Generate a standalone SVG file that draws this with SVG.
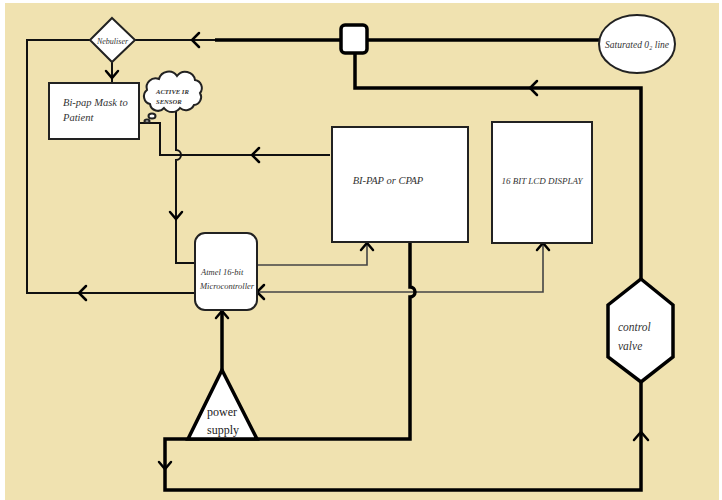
<svg xmlns="http://www.w3.org/2000/svg" width="722" height="500" viewBox="0 0 722 500">
<style>
.bg{fill:#F0E2B0}
.box{fill:#fff;stroke:#222;stroke-width:2}
.tk{fill:none;stroke:#000;stroke-width:3.5;stroke-linejoin:miter}
.tn{fill:none;stroke:#111;stroke-width:2}
.gr{fill:none;stroke:#444;stroke-width:1.6}
.ar{fill:none;stroke:#000;stroke-width:2.5;stroke-linecap:round;stroke-linejoin:miter}
.lbl{font-family:"Liberation Serif",serif;font-style:italic;fill:#333}
.up{font-family:"Liberation Serif",serif;fill:#222}
</style>
<rect x="0" y="0" width="722" height="500" fill="#fff"/>
<rect class="bg" x="5" y="3" width="714" height="497"/>

<g id="connectors">
  <!-- nebuliser to square line -->
  <path class="tn" d="M135,40 H215"/>
  <path class="tk" d="M215,40 H341"/>
  <path class="ar" d="M199,33 L192,40 L199,47"/>
  <!-- square to O2 line -->
  <path class="tk" d="M367,40 H600"/>
  <!-- nebuliser left loop to micro -->
  <path class="tn" d="M90,40 H27 V293 H195"/>
  <path class="ar" d="M86,286 L79,293 L86,300"/>
  <!-- nebuliser down to mask -->
  <path class="tn" d="M112,62 V83"/>
  <path class="ar" d="M106,71 L112,78 L118,71"/>
  <!-- BI-PAP to mask -->
  <path class="tn" d="M330,155 H160 V123 H139"/>
  <path class="ar" d="M259,148 L252,155 L259,162"/>
  <!-- sensor down to micro (hop) -->
  <path class="tn" d="M176,111 V150 A5,5 0 0 1 176,160 V263 H195"/>
  <path class="ar" d="M170,212 L176,219 L182,212"/>
  <!-- micro to BI-PAP -->
  <path class="gr" d="M257,265 H367 V243"/>
  <path class="ar" d="M361,250 L367,243 L373,250"/>
  <!-- LCD to micro -->
  <path class="gr" d="M543,243 V292 H257"/>
  <path class="ar" d="M537,250 L543,243 L549,250"/>
  <path class="ar" d="M264,285 L257,292 L264,299"/>
  <!-- BI-PAP down, loop to control valve -->
  <path class="tk" d="M410,242 V287 A5,5 0 0 1 410,297 V439 H165 V490 H641 V382"/>
  <path class="ar" d="M159,462 L165,469 L171,462"/>
  <path class="ar" d="M634,440 L641,432 L648,440"/>
  <!-- power supply to micro -->
  <path class="tk" d="M222,370 V311"/>
  <path class="ar" d="M216,318 L222,311 L228,318"/>
  <!-- control valve up to square -->
  <path class="tk" d="M641,279 V88 H355 V53"/>
  <path class="ar" d="M537,81 L530,88 L537,95"/>
</g>

<g id="nebuliser">
  <polygon class="box" points="112,18 135,40 112,62 90,40"/>
  <text class="lbl" x="112.5" y="43.5" font-size="8" text-anchor="middle">Nebuliser</text>
</g>

<g id="mask">
  <rect class="box" x="49" y="83" width="90" height="56"/>
  <text class="lbl" x="63" y="106" font-size="10.5">Bi-pap Mask to</text>
  <text class="lbl" x="63" y="121" font-size="10.5">Patient</text>
</g>

<g id="sensor">
  <path class="box" d="M150,104 a8,8 0 0 1 -3,-14 a9,9 0 0 1 12,-11 a10,10 0 0 1 18,-3 a10,10 0 0 1 18,4 a8,8 0 0 1 5,13 a8,8 0 0 1 -6,12 a9,9 0 0 1 -14,3 a10,10 0 0 1 -16,0 a8,8 0 0 1 -14,-4 z"/>
  <ellipse class="box" cx="152" cy="116" rx="3.5" ry="2.5" stroke-width="1.5"/>
  <ellipse class="box" cx="147" cy="121" rx="2.5" ry="1.6" stroke-width="1.5"/>
  <text class="lbl" x="156" y="94" font-size="6.6" font-weight="bold">ACTIVE IR</text>
  <text class="lbl" x="156" y="104" font-size="6.6" font-weight="bold">SENSOR</text>
</g>

<g id="square">
  <rect x="341" y="25" width="26" height="28" rx="4" fill="#fff" stroke="#000" stroke-width="3.5"/>
</g>

<g id="o2line">
  <ellipse class="box" cx="637" cy="44" rx="38" ry="29"/>
  <text class="lbl" x="637" y="47.5" font-size="9.5" text-anchor="middle">Saturated 0₂ line</text>
</g>

<g id="bipap">
  <rect class="box" x="332" y="127" width="136" height="115"/>
  <text class="lbl" x="388" y="184" font-size="10.5" text-anchor="middle">BI-PAP or CPAP</text>
</g>

<g id="lcd">
  <rect class="box" x="492" y="122" width="100" height="121"/>
  <text class="lbl" x="542" y="184" font-size="9" text-anchor="middle">16 BIT LCD DISPLAY</text>
</g>

<g id="micro">
  <rect class="box" x="195" y="233" width="62" height="77" rx="10"/>
  <text class="lbl" x="201" y="275" font-size="8.5">Atmel 16-bit</text>
  <text class="lbl" x="200" y="289" font-size="8.5">Microcontroller</text>
</g>

<g id="power">
  <polygon points="222,370 257,439 188,439" fill="#fff" stroke="#000" stroke-width="3.5" stroke-linejoin="miter"/>
  <text class="up" x="222" y="416" font-size="12" text-anchor="middle">power</text>
  <text class="up" x="223" y="434" font-size="12" text-anchor="middle">supply</text>
</g>

<g id="valve">
  <polygon points="641,279 673,305 673,357 641,382 608,357 608,305" fill="#fff" stroke="#000" stroke-width="3.5"/>
  <text class="lbl" x="618" y="331" font-size="11.5" fill="#223">control</text>
  <text class="lbl" x="618" y="350" font-size="11.5" fill="#223">valve</text>
</g>
</svg>
